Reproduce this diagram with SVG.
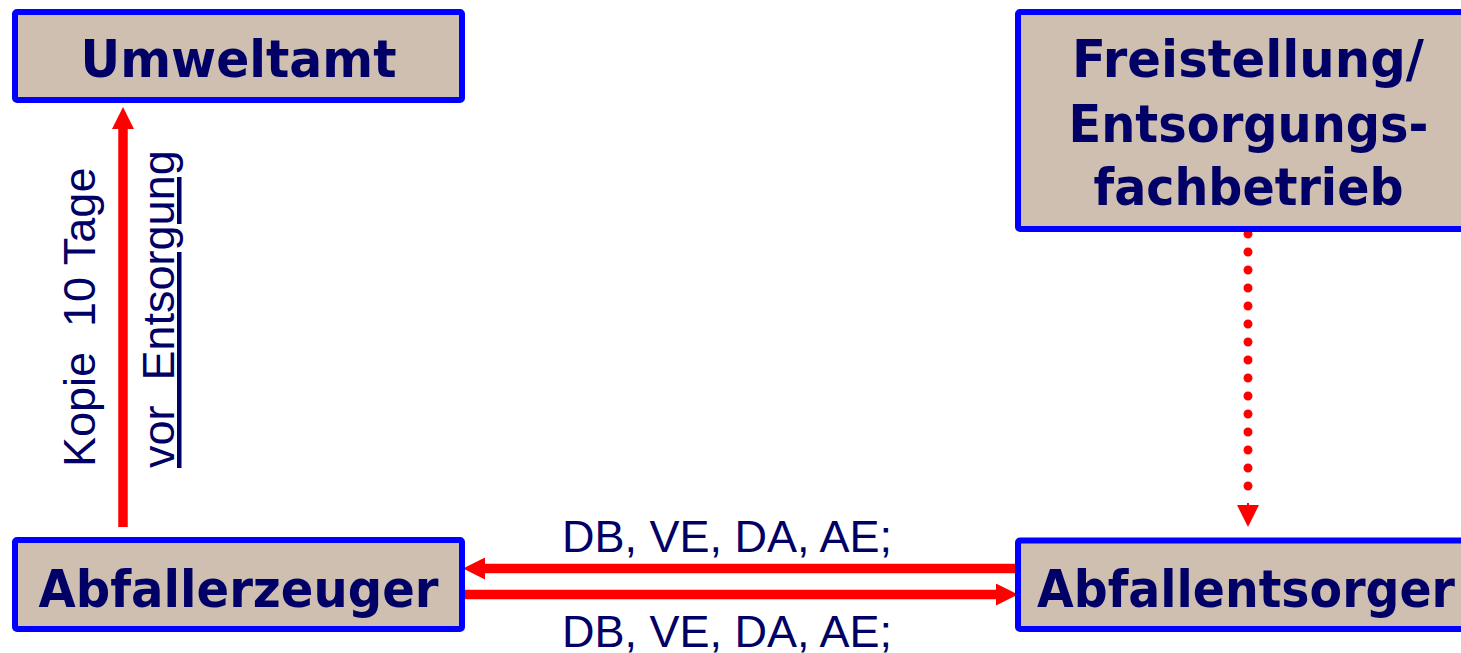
<svg xmlns="http://www.w3.org/2000/svg" width="1461" height="653" viewBox="0 0 1461 653">
  <style>
    .box { fill: #CFBFB0; stroke: #0000FF; stroke-width: 6; }
    .title { font-family: "DejaVu Sans", Verdana, sans-serif; font-weight: bold; font-size: 51px; fill: #000066; text-anchor: middle; }
    .lbl { font-family: "Liberation Sans", Arial, sans-serif; font-size: 45px; fill: #000066; white-space: pre; }
    .conn { stroke: #FF0000; stroke-width: 9.5; fill: none; }
    .dots { stroke: #FF0000; stroke-width: 9; stroke-linecap: round; stroke-dasharray: 0 18; fill: none; }
  </style>
  <defs>
    <marker id="ah" markerUnits="userSpaceOnUse" markerWidth="22" markerHeight="22" viewBox="0 0 22 22" refX="0" refY="11" orient="auto">
      <path d="M0,0 L22,11 L0,22 Z" fill="#FF0000"/>
    </marker>
  </defs>

  <g id="connectors">
    <line class="conn" x1="123" y1="527" x2="123" y2="129" marker-end="url(#ah)"/>
    <line class="conn" x1="1018" y1="568.5" x2="485" y2="568.5" marker-end="url(#ah)"/>
    <line class="conn" x1="462" y1="594.5" x2="996" y2="594.5" marker-end="url(#ah)"/>
    <path class="dots" d="M1248,234 L1248,503"/>
    <line x1="1248" y1="503" x2="1248" y2="505" stroke="#FF0000" stroke-width="2" marker-end="url(#ah)"/>
    <text class="lbl" xml:space="preserve" transform="translate(95,467) rotate(-90)">Kopie  10 Tage</text>
    <text class="lbl" xml:space="preserve" transform="translate(174,468) rotate(-90)" text-decoration="underline">vor  Entsorgung</text>
    <text class="lbl" x="727" y="552" text-anchor="middle">DB, VE, DA, AE;</text>
    <text class="lbl" x="727" y="647" text-anchor="middle">DB, VE, DA, AE;</text>
  </g>

  <g id="umweltamt">
    <rect class="box" x="15" y="12" width="447" height="88" rx="2"/>
    <text class="title" x="238.5" y="77" textLength="316" lengthAdjust="spacingAndGlyphs">Umweltamt</text>
  </g>

  <g id="freistellung">
    <rect class="box" x="1018" y="12" width="470" height="217" rx="2"/>
    <text class="title" x="1248" y="77" textLength="352" lengthAdjust="spacingAndGlyphs">Freistellung/</text>
    <text class="title" x="1248.5" y="142" textLength="360" lengthAdjust="spacingAndGlyphs">Entsorgungs-</text>
    <text class="title" x="1248.5" y="205" textLength="310" lengthAdjust="spacingAndGlyphs">fachbetrieb</text>
  </g>

  <g id="abfallerzeuger">
    <rect class="box" x="15" y="540" width="447" height="89" rx="2"/>
    <text class="title" x="238.5" y="607" textLength="400" lengthAdjust="spacingAndGlyphs">Abfallerzeuger</text>
  </g>

  <g id="abfallentsorger">
    <rect class="box" x="1018" y="540.5" width="470" height="88.5" rx="2"/>
    <text class="title" x="1246" y="607" textLength="418" lengthAdjust="spacingAndGlyphs">Abfallentsorger</text>
  </g>
</svg>
